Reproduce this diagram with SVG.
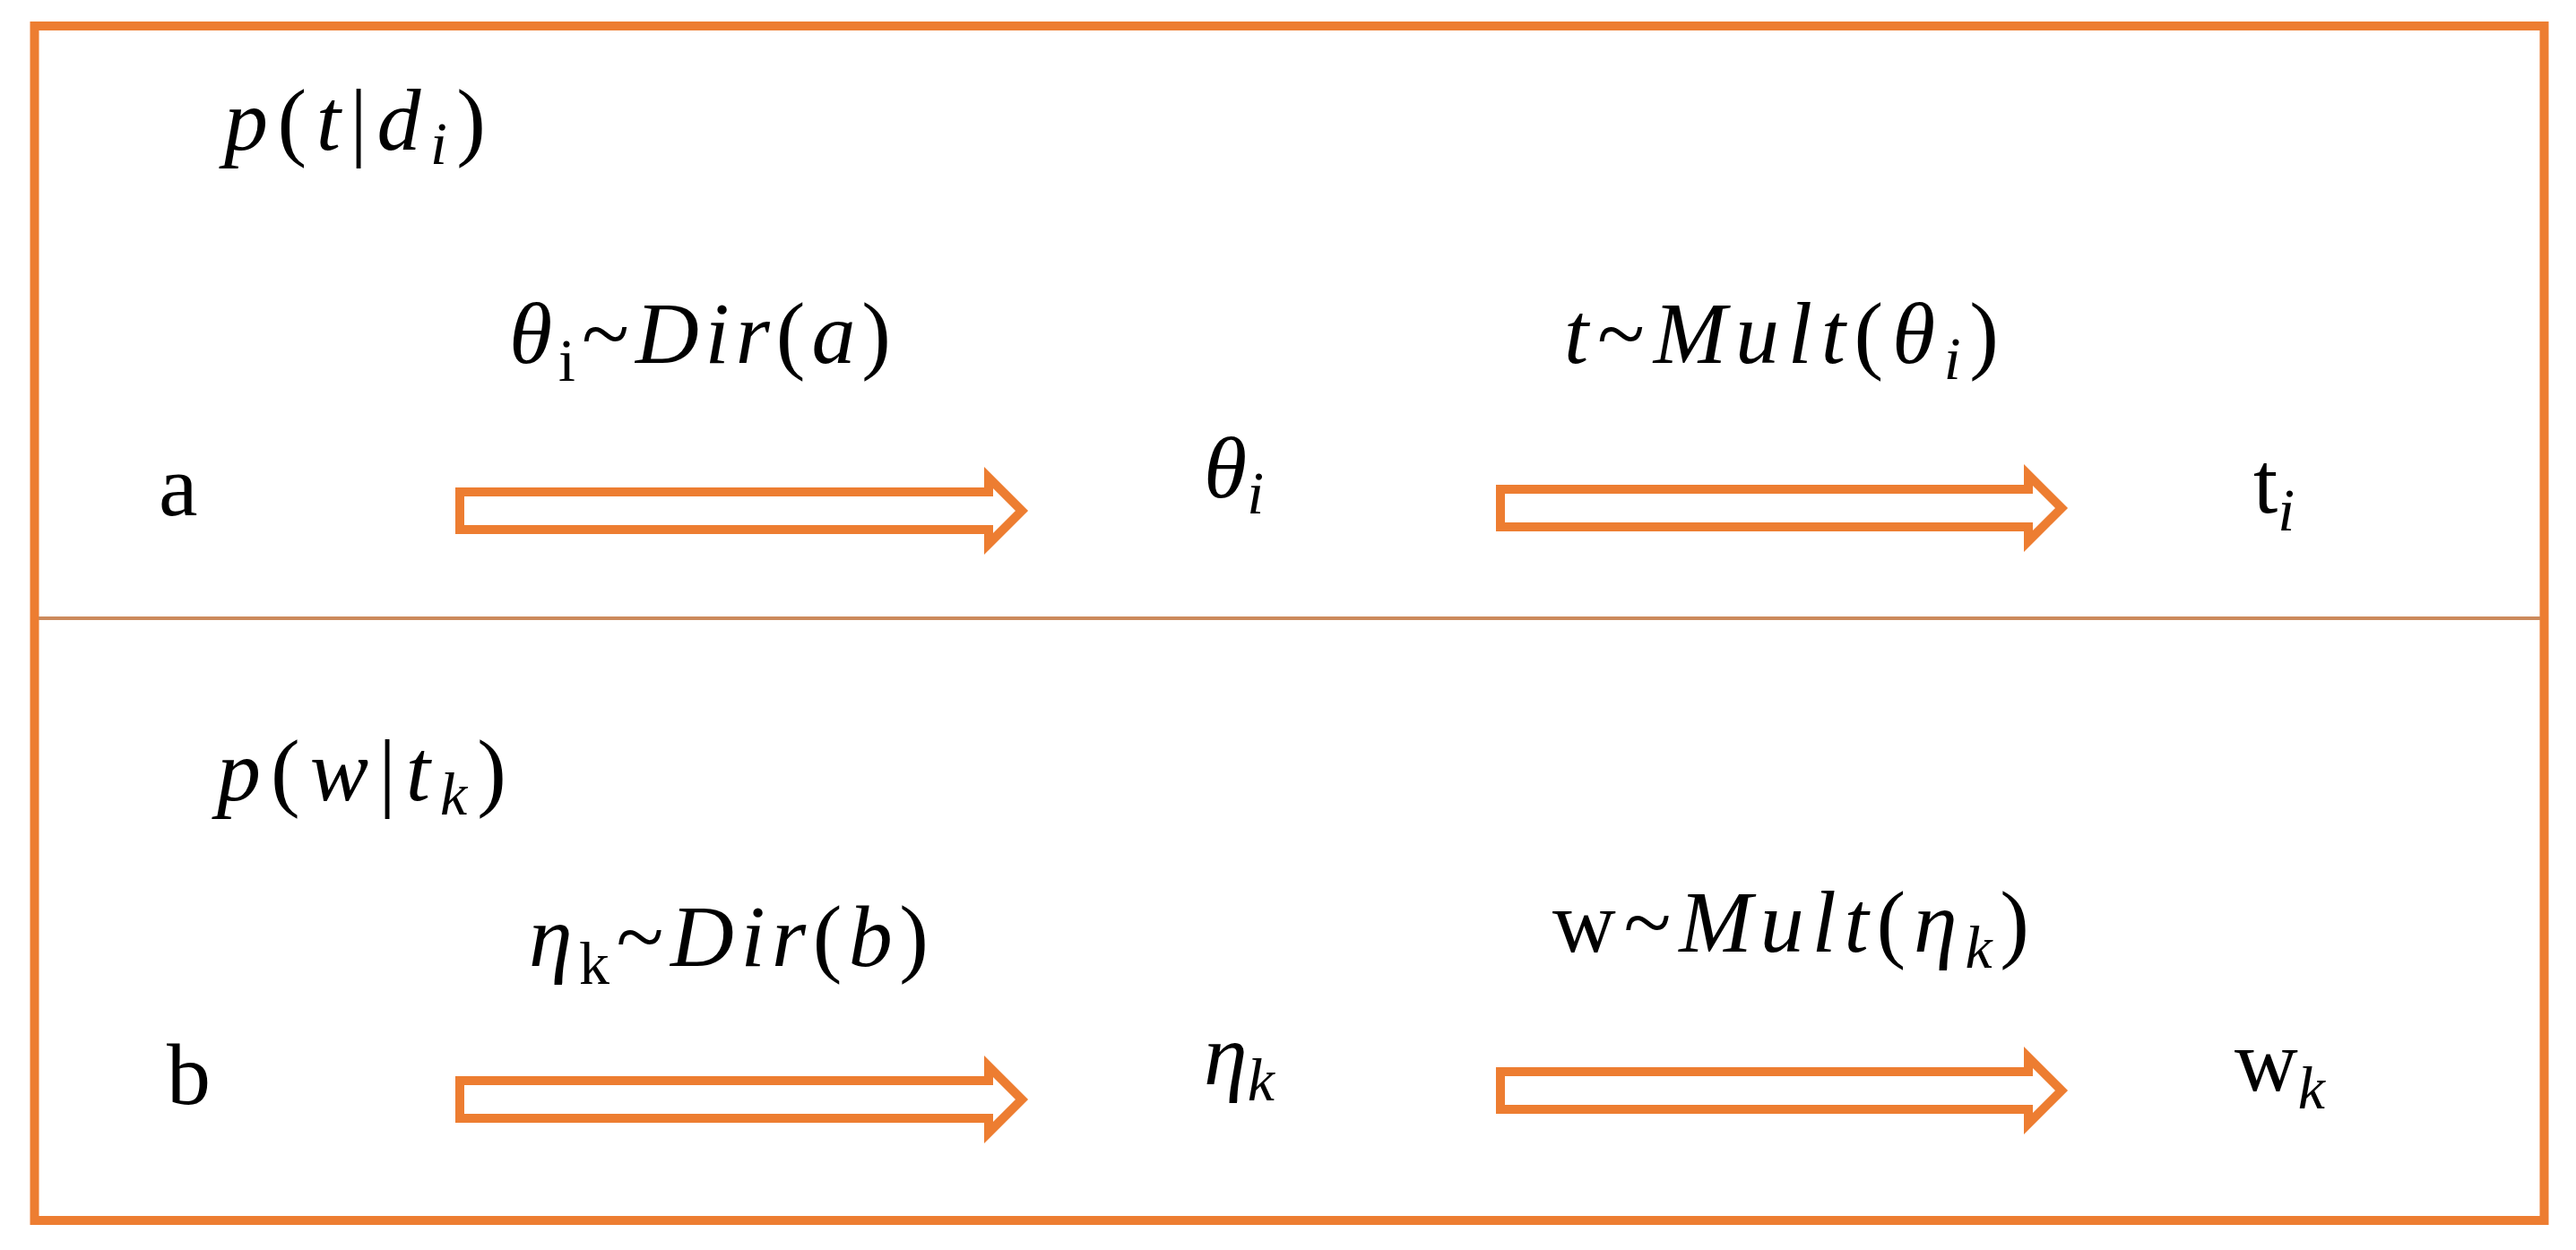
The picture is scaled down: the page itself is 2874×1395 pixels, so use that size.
<svg xmlns="http://www.w3.org/2000/svg" width="2874" height="1395" viewBox="0 0 2874 1395">
<style>
  text { font-family: "Liberation Serif", "Times New Roman", serif; fill: #000; }
  .f { font-size: 98px; }
  .n { font-size: 98px; }
  .it { font-style: italic; }
  .sub { font-size: 68px; }
  .arrow { fill: #fff; stroke: #ED7D31; stroke-width: 10; stroke-linejoin: miter; }
</style>
<rect x="0" y="0" width="2874" height="1395" fill="#fff"/>
<g id="frame">
  <rect x="38.5" y="29" width="2800" height="1333" fill="none" stroke="#ED7D31" stroke-width="10"/>
  <line x1="43" y1="690" x2="2834" y2="690" stroke="#CC8A5C" stroke-width="4"/>
</g>
<g id="connectors">
  <path id="arrow-a-theta" class="arrow" d="M513,549 H1103 V533 L1140,570 L1103,607 V591 H513 Z"/>
  <path id="arrow-theta-t" class="arrow" d="M1674,546 H2263 V530 L2300,567 L2263,604 V588 H1674 Z"/>
  <path id="arrow-b-eta" class="arrow" d="M513,1206 H1103 V1190 L1140,1227 L1103,1264 V1248 H513 Z"/>
  <path id="arrow-eta-w" class="arrow" d="M1674,1196 H2263 V1180 L2300,1217 L2263,1254 V1238 H1674 Z"/>
</g>
<g id="title-top">
  <text class="f" x="250" y="167" textLength="292"><tspan class="it">p</tspan>(<tspan class="it">t</tspan>|<tspan class="it">d</tspan><tspan class="sub it" dy="16">i</tspan><tspan dy="-16">)</tspan></text>
</g>
<g id="label-dir-a">
  <text class="f" x="568" y="405" textLength="426"><tspan class="it">θ</tspan><tspan class="sub" dy="20">i</tspan><tspan dy="-20">~</tspan><tspan class="it">Dir</tspan>(<tspan class="it">a</tspan>)</text>
</g>
<g id="label-mult-theta">
  <text class="f" x="1745" y="405" textLength="485"><tspan class="it">t</tspan>~<tspan class="it">Mult</tspan>(<tspan class="it">θ</tspan><tspan class="sub it" dy="18">i</tspan><tspan dy="-18">)</tspan></text>
</g>
<g id="node-a">
  <text class="n" x="177" y="575">a</text>
</g>
<g id="node-theta">
  <text class="f" x="1343" y="555"><tspan class="it">θ</tspan><tspan class="sub it" dy="18">i</tspan></text>
</g>
<g id="node-t">
  <text class="n" x="2514" y="572">t<tspan class="sub it" dy="20">i</tspan></text>
</g>
<g id="title-bottom">
  <text class="f" x="242" y="893" textLength="323"><tspan class="it">p</tspan>(<tspan class="it">w</tspan>|<tspan class="it">t</tspan><tspan class="sub it" dy="16">k</tspan><tspan dy="-16">)</tspan></text>
</g>
<g id="label-dir-b">
  <text class="f" x="590" y="1078" textLength="446"><tspan class="it">η</tspan><tspan class="sub" dy="20">k</tspan><tspan dy="-20">~</tspan><tspan class="it">Dir</tspan>(<tspan class="it">b</tspan>)</text>
</g>
<g id="label-mult-eta">
  <text class="f" x="1732" y="1062" textLength="532">w~<tspan class="it">Mult</tspan>(<tspan class="it">η</tspan><tspan class="sub it" dy="18">k</tspan><tspan dy="-18">)</tspan></text>
</g>
<g id="node-b">
  <text class="n" x="186" y="1232">b</text>
</g>
<g id="node-eta">
  <text class="f" x="1343" y="1210"><tspan class="it">η</tspan><tspan class="sub it" dy="18">k</tspan></text>
</g>
<g id="node-w">
  <text class="n" x="2493" y="1217">w<tspan class="sub it" dy="20">k</tspan></text>
</g>
</svg>
